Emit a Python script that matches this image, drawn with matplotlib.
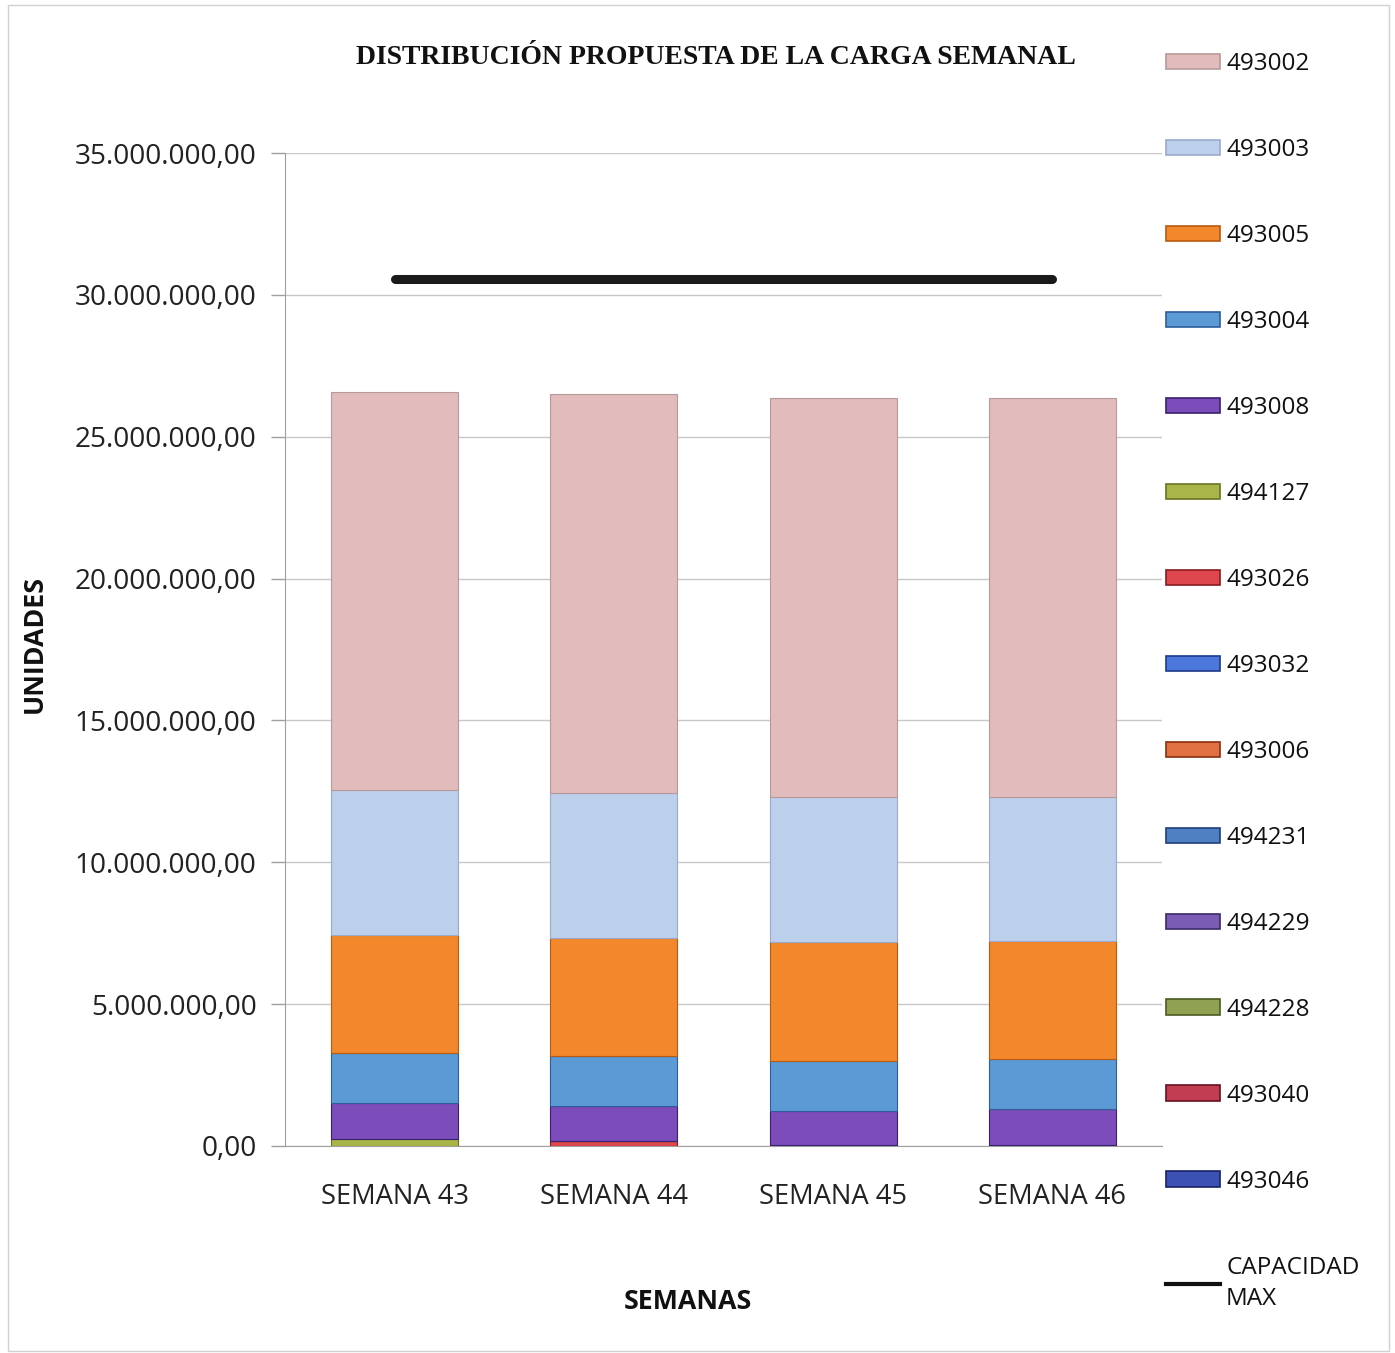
import matplotlib
matplotlib.use("Agg")
import matplotlib.pyplot as plt
from matplotlib.patches import Patch, Rectangle
from matplotlib.lines import Line2D
from matplotlib.ticker import FuncFormatter
import numpy as np

# ---------------- data ----------------
weeks = ["SEMANA 43", "SEMANA 44", "SEMANA 45", "SEMANA 46"]

# stacking order bottom -> top
series_names = ["493046", "493040", "494228", "494229", "494231", "493006",
                "493032", "493026", "494127", "493008", "493004", "493005",
                "493003", "493002"]

s493046 = [0.0, 0.0, 0.04e6, 0.04e6]
s493040 = [0.0, 0.0, 0.0, 0.0]
s494228 = [0.0, 0.0, 0.0, 0.0]
s494229 = [0.0, 0.0, 0.0, 0.0]
s494231 = [0.0, 0.0, 0.0, 0.0]
s493006 = [0.0, 0.0, 0.0, 0.0]
s493032 = [0.0, 0.0, 0.0, 0.0]
s493026 = [0.0, 0.17e6, 0.0, 0.0]
s494127 = [0.25e6, 0.0, 0.0, 0.0]
s493008 = [1.25e6, 1.25e6, 1.20e6, 1.25e6]
s493004 = [1.78e6, 1.76e6, 1.77e6, 1.77e6]
s493005 = [4.16e6, 4.15e6, 4.18e6, 4.17e6]
s493003 = [5.11e6, 5.11e6, 5.11e6, 5.07e6]
s493002 = [14.03e6, 14.07e6, 14.07e6, 14.07e6]

capacidad_max = [30.56e6, 30.56e6, 30.56e6, 30.56e6]

series_values = [s493046, s493040, s494228, s494229, s494231, s493006,
                 s493032, s493026, s494127, s493008, s493004, s493005,
                 s493003, s493002]

colors = {
    "493002": "#E2BBBC", "493003": "#BCD0EC", "493005": "#F2872B",
    "493004": "#5C9AD6", "493008": "#7C4DBA", "494127": "#A9B548",
    "493026": "#DE474D", "493032": "#4B78DA", "493006": "#E07042",
    "494231": "#4F80C2", "494229": "#7B5CB4", "494228": "#8FA254",
    "493040": "#C23C52", "493046": "#3B52B4",
}
edges = {
    "493002": "#B89999", "493003": "#9AAACC", "493005": "#B85A10",
    "493004": "#2E5E9A", "493008": "#3A2070", "494127": "#6A7420",
    "493026": "#8A1A20", "493032": "#1E3A8A", "493006": "#8A3010",
    "494231": "#20407A", "494229": "#3A2A6A", "494228": "#4A5A20",
    "493040": "#6A1020", "493046": "#1A2266",
}

# ---------------- figure ----------------
W, H = 1395, 1353
fig = plt.figure(figsize=(W / 100, H / 100), dpi=100)
fig.patch.set_facecolor("white")

ax = fig.add_axes([285 / W, 1 - 1146 / H, (1162 - 285) / W, (1146 - 153) / H])

x = np.arange(len(weeks))
bottom = np.zeros(len(weeks))
for name, vals in zip(series_names, series_values):
    vals = np.array(vals)
    ax.bar(x, vals, 0.58, bottom=bottom, color=colors[name],
           edgecolor=edges[name], linewidth=0.8, zorder=3)
    bottom += vals

ax.plot(x, capacidad_max, color="#1A1A1A", linewidth=6.5,
        solid_capstyle="round", zorder=4)

ax.set_xlim(-0.5, 3.5)
ax.set_ylim(0, 35e6)
ax.set_yticks(np.arange(0, 35e6 + 1, 5e6))


def fmt(v, pos):
    s = f"{v:,.2f}"
    return s.replace(",", "X").replace(".", ",").replace("X", ".")


ax.yaxis.set_major_formatter(FuncFormatter(fmt))
ax.set_xticks(x)
ax.set_xticklabels(weeks)

tick_font = "Open Sans"
for lab in ax.get_yticklabels():
    lab.set_fontfamily(tick_font)
    lab.set_fontsize(20.2)
    lab.set_color("#222222")
for lab in ax.get_xticklabels():
    lab.set_fontfamily(tick_font)
    lab.set_fontsize(19.7)
    lab.set_color("#222222")

ax.tick_params(axis="y", length=10, width=1, color="#A0A0A0", pad=10.5)
ax.tick_params(axis="x", length=0, pad=27)
ax.grid(axis="y", color="#C8C8C8", linewidth=1, zorder=0)
for side in ["top", "right"]:
    ax.spines[side].set_visible(False)
ax.spines["left"].set_color("#A0A0A0")
ax.spines["bottom"].set_color("#A0A0A0")

# title & axis labels
fig.text(716 / W, 1 - 57 / H, "DISTRIBUCIÓN PROPUESTA DE LA CARGA SEMANAL",
         ha="center", va="center", fontfamily="Liberation Serif",
         fontsize=20, fontweight="bold", color="#111111")
fig.text(35 / W, 1 - 644 / H, "UNIDADES", rotation=90, ha="center",
         va="center", fontfamily=tick_font, fontsize=19.3, fontweight="bold",
         color="#111111")
fig.text(688 / W, 1 - 1302 / H, "SEMANAS", ha="center", va="center",
         fontfamily=tick_font, fontsize=19.3, fontweight="bold",
         color="#111111")

# legend (top -> bottom)
handles = []
labels = []
for name in series_names[::-1]:
    handles.append(Patch(facecolor=colors[name], edgecolor=edges[name],
                         linewidth=1.2))
    labels.append(name)
handles.append(Line2D([0], [0], color="#111111", linewidth=3))
labels.append("CAPACIDAD\nMAX")

leg = fig.legend(handles, labels, loc="upper left",
                 bbox_to_anchor=(1166 / W, 1 - 52 / H),
                 frameon=False, handlelength=2.22, handleheight=0.6,
                 handletextpad=0.25, labelspacing=2.55,
                 prop={"family": tick_font, "size": 17.5},
                 borderaxespad=0, borderpad=0)
for t in leg.get_texts():
    t.set_color("#111111")
leg.get_texts()[-1].set_linespacing(1.4)

# thin scan frame
fig.patches.append(Rectangle((8 / W, 2 / H), (1389 - 8) / W, (1348 - 2) / H,
                             transform=fig.transFigure, fill=False,
                             edgecolor="#D0D0D0", linewidth=1))

fig.savefig("out.png", dpi=100, facecolor="white")
